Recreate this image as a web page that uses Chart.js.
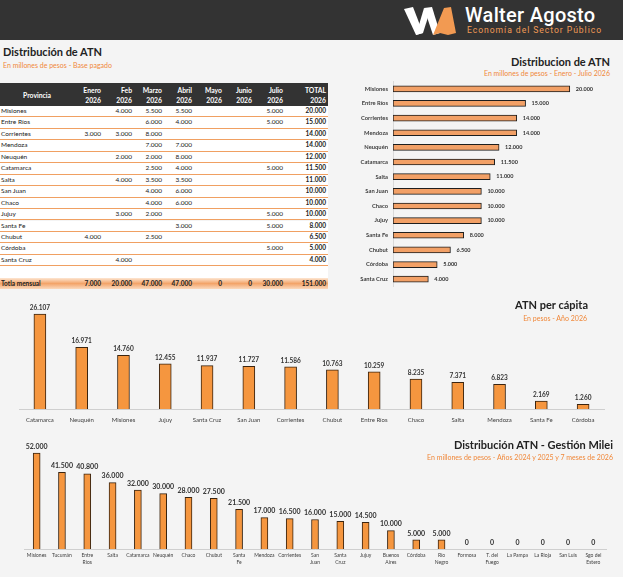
<!DOCTYPE html>
<html>
<head>
<meta charset="utf-8">
<script src="https://cdn.jsdelivr.net/npm/chart.js@4.4.0/dist/chart.umd.min.js"></script>
<style>
  body { margin: 0; width: 623px; height: 577px; background: #f4f4f4; font-family: Lato, sans-serif; position: relative; overflow: hidden; }
  .hdr { position: absolute; left: 0; top: 0; width: 623px; height: 40px; background: #333; }
  .brand { position: absolute; left: 465px; top: 3px; color: #fff; font-family: Roboto, sans-serif; font-weight: 500; font-size: 20px; letter-spacing: 0.3px; }
  .brand-sub { position: absolute; left: 467px; top: 25px; color: #f19a55; font-family: Roboto, sans-serif; font-size: 8.6px; letter-spacing: 0.95px; }
  .ttl { position: absolute; font-weight: 700; font-size: 11px; color: #222; white-space: nowrap; }
  .sub { position: absolute; font-size: 7px; color: #f0883a; white-space: nowrap; }
  .box { position: absolute; }
  #tabla { position: absolute; left: 0; top: 83px; width: 328px; font-size: 6.5px; color: #222; }
  .th { position: absolute; top: 0; height: 23px; background: #333; width: 328px; font-size: 6.8px; }
  .th div { position: absolute; top: 2px; color: #fff; font-weight: 700; line-height: 10px; text-align: right; }
  .row { position: absolute; left: 0; width: 328px; background: #fff; border-bottom: 1.5px solid #f0a062; box-sizing: border-box; }
  .row span { position: absolute; top: 0; }
  .tot { background: linear-gradient(#fde6d2, #f3a469 50%, #fbd9bd); border-bottom: none; font-weight: 700; }
</style>
</head>
<body>
<div class="hdr"></div>
<svg style="position:absolute;left:404px;top:4px" width="54" height="32" viewBox="0 0 54 32">
  <polygon points="0,5 9,3 19,29 12,31" fill="#fff"/>
  <polygon points="12,31 19,29 25,10 20,4" fill="#fff"/>
  <polygon points="20,4 28,3 36,29 29,31" fill="#fff"/>
  <polygon points="36,29 29,31 40,4 47,3 52,29 44,31" fill="#f29a52"/>
</svg>
<div class="brand">Walter Agosto</div>
<div class="brand-sub">Economía del Sector Público</div>

<div class="ttl" style="left:3px;top:45px">Distribución de ATN</div>
<div class="sub" style="left:3px;top:61px">En millones de pesos - Base pagado</div>
<div id="tabla"></div>

<div class="ttl" style="right:13px;top:55px">Distribucion de ATN</div>
<div class="sub" style="right:13px;top:69px">En millones de pesos - Enero - Julio 2026</div>
<div class="box" style="left:340px;top:73px;width:283px;height:222px"><canvas id="chartTotal"></canvas></div>

<div class="box" style="left:0;top:295px;width:623px;height:135px"><canvas id="chartPC"></canvas></div>
<div class="ttl" style="right:35px;top:298px">ATN per cápita</div>
<div class="sub" style="right:36px;top:314px">En pesos - Año 2026</div>

<div class="box" style="left:0;top:440px;width:623px;height:137px"><canvas id="chartMilei"></canvas></div>
<div class="ttl" style="right:10px;top:438px">Distribución ATN - Gestión Milei</div>
<div class="sub" style="right:10px;top:453px">En millones de pesos - Años 2024 y 2025 y 7 meses de 2026</div>

<script>
// tabla mensual (millones de pesos)
const provincias = ['Misiones', 'Entre Ríos', 'Corrientes', 'Mendoza', 'Neuquén', 'Catamarca', 'Salta',
    'San Juan', 'Chaco', 'Jujuy', 'Santa Fe', 'Chubut', 'Córdoba', 'Santa Cruz'];
const meses = [['Enero', '2026'], ['Feb', '2026'], ['Marzo', '2026'], ['Abril', '2026'],
    ['Mayo', '2026'], ['Junio', '2026'], ['Julio', '2026'], ['TOTAL', '2026']];
const enero = [null, null, 3000, null, null, null, null, null, null, null, null, 4000, null, null];
const febrero = [4000, null, 3000, null, 2000, null, 4000, null, null, 3000, null, null, null, 4000];
const marzo = [5500, 6000, 8000, 7000, 2000, 2500, 3500, 4000, 4000, 2000, null, 2500, null, null];
const abril = [5500, 4000, null, 7000, 8000, 4000, 3500, 6000, 6000, null, 3000, null, null, null];
const mayo = [null, null, null, null, null, null, null, null, null, null, null, null, null, null];
const junio = [null, null, null, null, null, null, null, null, null, null, null, null, null, null];
const julio = [5000, 5000, null, null, null, 5000, null, null, null, 5000, 5000, null, 5000, null];
const totalProv = [20000, 15000, 14000, 14000, 12000, 11500, 11000, 10000, 10000, 10000, 8000, 6500, 5000, 4000];
const totalMes = [7000, 20000, 47000, 47000, 0, 0, 30000, 151000];

// ATN per capita 2026
const provPC = ['Catamarca', 'Neuquén', 'Misiones', 'Jujuy', 'Santa Cruz', 'San Juan', 'Corrientes',
    'Chubut', 'Entre Ríos', 'Chaco', 'Salta', 'Mendoza', 'Santa Fe', 'Córdoba'];
const atnPC = [26107, 16971, 14760, 12455, 11937, 11727, 11586, 10763, 10259, 8235, 7371, 6823, 2169, 1260];

// gestion Milei
const provMilei = ['Misiones', 'Tucumán', ['Entre', 'Ríos'], 'Salta', 'Catamarca', 'Neuquén', 'Chaco', 'Chubut',
    ['Santa', 'Fe'], 'Mendoza', 'Corrientes', ['San', 'Juan'], ['Santa', 'Cruz'], 'Jujuy', ['Buenos', 'Aires'],
    'Córdoba', ['Río', 'Negro'], 'Formosa', ['T. del', 'Fuego'], 'La Pampa', 'La Rioja', 'San Luis', ['Sgo del', 'Estero']];
const atnMilei = [52000, 41500, 40800, 36000, 32000, 30000, 28000, 27500, 21500, 17000, 16500, 16000,
    15000, 14500, 10000, 5000, 5000, 0, 0, 0, 0, 0, 0];

const fmt = v => String(v).replace(/\B(?=(\d{3})+(?!\d))/g, '.');

// --- tabla ---
const colRight = [101, 132, 162, 192, 222, 252, 283, 326];
const tabla = document.getElementById('tabla');
let html = '<div class="th"><div style="left:0;width:74px;text-align:center;top:7px">Provincia</div>';
meses.forEach((m, i) => {
    html += `<div style="right:${328 - colRight[i]}px">${m[0]}<br>${m[1]}</div>`;
});
html += '</div>';
const rowH = 11.45;
const cols = [enero, febrero, marzo, abril, mayo, junio, julio];
provincias.forEach((p, r) => {
    let top = 23 + r * rowH;
    html += `<div class="row" style="top:${top}px;height:${rowH}px;line-height:${rowH - 1.5}px"><span style="left:1px">${p}</span>`;
    cols.forEach((c, i) => {
        if (c[r] != null) html += `<span style="right:${328 - colRight[i]}px">${fmt(c[r])}</span>`;
    });
    html += `<span style="right:${328 - colRight[7]}px;font-weight:700">${fmt(totalProv[r])}</span></div>`;
});
html += `<div class="row" style="top:${23 + 14 * rowH}px;height:${rowH}px;border-bottom:none"></div>`;
html += `<div class="row tot" style="top:${23 + 15 * rowH}px;height:${rowH}px;line-height:${rowH}px"><span style="left:1px">Totla mensual</span>`;
totalMes.forEach((v, i) => {
    html += `<span style="right:${328 - colRight[i]}px">${fmt(v)}</span>`;
});
html += '</div>';
tabla.innerHTML = html;

// --- etiquetas de valores ---
const valueLabels = {
    id: 'valueLabels',
    afterDatasetsDraw(chart, args, opts) {
        const ctx = chart.ctx;
        const data = chart.data.datasets[0].data;
        ctx.save();
        ctx.font = opts.font;
        ctx.fillStyle = opts.color || '#333';
        chart.getDatasetMeta(0).data.forEach((bar, i) => {
            const txt = fmt(data[i]);
            if (opts.horizontal) {
                ctx.textAlign = 'left';
                ctx.textBaseline = 'middle';
                ctx.fillText(txt, bar.x + opts.offset, bar.y);
            } else {
                ctx.textAlign = 'center';
                ctx.textBaseline = 'bottom';
                ctx.fillText(txt, bar.x, bar.y - opts.offset);
            }
        });
        ctx.restore();
    }
};
Chart.register(valueLabels);
Chart.defaults.font.family = 'Lato, sans-serif';
Chart.defaults.color = '#404040';

new Chart(document.getElementById('chartTotal'), {
    type: 'bar',
    data: {
        labels: provincias,
        datasets: [{
            data: totalProv,
            backgroundColor: '#f2a066',
            borderColor: '#1e1e1e',
            borderWidth: 1,
            borderSkipped: false,
            barThickness: 6
        }]
    },
    options: {
        indexAxis: 'y',
        responsive: true,
        maintainAspectRatio: false,
        animation: false,
        layout: {padding: {right: 9}},
        scales: {
            x: {display: false, min: 0, max: 25000},
            y: {
                grid: {display: false, drawTicks: false},
                border: {color: '#d9d9d9'},
                ticks: {font: {size: 5.8, weight: 'bold'}, color: '#404040', padding: 5},
                afterFit(s) { s.width = 53; }
            }
        },
        plugins: {
            legend: {display: false},
            tooltip: {enabled: false},
            valueLabels: {horizontal: true, offset: 6, font: 'bold 5.5px Lato, sans-serif', color: '#333'}
        }
    }
});

new Chart(document.getElementById('chartPC'), {
    type: 'bar',
    data: {
        labels: provPC,
        datasets: [{
            data: atnPC,
            backgroundColor: '#f5963f',
            borderColor: '#3a2410',
            borderWidth: 1,
            barThickness: 12
        }]
    },
    options: {
        responsive: true,
        maintainAspectRatio: false,
        animation: false,
        layout: {padding: {left: 19, right: 19, top: 5}},
        scales: {
            x: {
                grid: {display: false, drawTicks: false},
                border: {color: '#cfcfcf'},
                ticks: {font: {size: 6}, color: '#404040', padding: 7, maxRotation: 0, autoSkip: false},
                afterFit(s) { s.height = 21; }
            },
            y: {display: false, min: 0, max: 30000}
        },
        plugins: {
            legend: {display: false},
            tooltip: {enabled: false},
            valueLabels: {offset: 3, font: 'bold 6.5px Lato, sans-serif', color: '#333'}
        }
    }
});

new Chart(document.getElementById('chartMilei'), {
    type: 'bar',
    data: {
        labels: provMilei,
        datasets: [{
            data: atnMilei,
            backgroundColor: '#f5963f',
            borderColor: '#3a2410',
            borderWidth: 1,
            barThickness: 7
        }]
    },
    options: {
        responsive: true,
        maintainAspectRatio: false,
        animation: false,
        layout: {padding: {left: 24, right: 17, top: 2}},
        scales: {
            x: {
                grid: {display: false, drawTicks: false},
                border: {color: '#cfcfcf'},
                ticks: {font: {size: 5, lineHeight: 1.3}, color: '#404040', padding: 3.5, maxRotation: 0, autoSkip: false},
                afterFit(s) { s.height = 28; }
            },
            y: {display: false, min: 0, max: 58000}
        },
        plugins: {
            legend: {display: false},
            tooltip: {enabled: false},
            valueLabels: {offset: 3, font: 'bold 7px Lato, sans-serif', color: '#333'}
        }
    }
});
</script>
</body>
</html>
